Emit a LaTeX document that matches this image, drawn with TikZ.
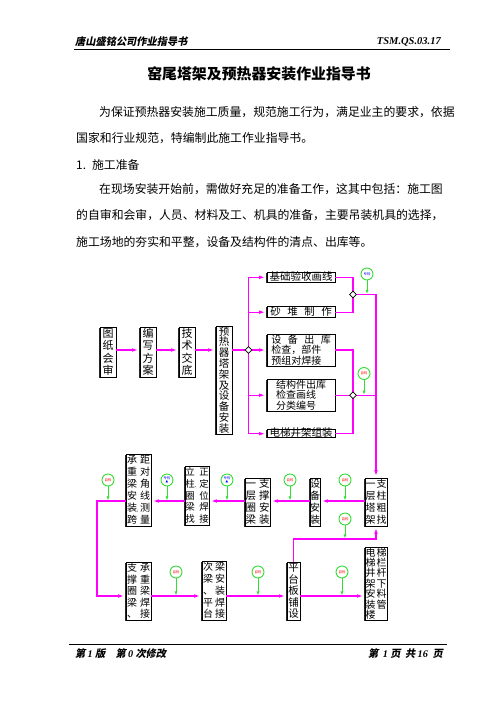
\documentclass[tikz,border=0pt]{standalone}
\usepackage{fontspec}
\setmainfont{Noto Sans CJK SC}
\newfontfamily\cjkhd{Noto Sans CJK SC}[FakeSlant=0.2]
\newfontfamily\lserif{Liberation Serif}
\newfontfamily\symfont{DejaVu Sans}
\usetikzlibrary{positioning,arrows.meta,shapes.geometric,shadows}
\definecolor{FlowMag}{HTML}{FF00FF}
\definecolor{ChkGreen}{HTML}{33DD33}
\newcommand\bxfont[2]{\fontsize{#1}{#2}\selectfont\lineskiplimit=-\maxdimen\relax}
\newcommand\vc[1]{\vtop{\lineskiplimit=-\maxdimen\let\\\cr\halign{\hfil##\hfil\cr#1\crcr}}}
\newcommand\pct[1]{\rlap{\fontsize{4.5}{5}\selectfont#1}}
\begin{document}
\begin{tikzpicture}[x=1pt, y=-1pt,
      box/.style={draw, line width=0.6pt, fill=white, inner sep=0pt,
        drop shadow={shadow xshift=-1.1pt, shadow yshift=-0.7pt, fill=black, opacity=0.85}},
      flow/.style={draw=FlowMag, line width=1.2pt},
      arr/.style={flow, -{Latex[length=6pt,width=3.6pt]}, shorten >=1.5pt},
      joint/.style={diamond, draw, fill=white, line width=0.6pt, inner sep=0pt, minimum size=7pt},
      chk/.style={circle, draw=ChkGreen, line width=0.9pt, fill=white, minimum size=12pt,
        inner sep=0pt, text=red, align=center, font=\bxfont{3.4}{3.4}},
      chkz/.style={chk, text=blue},
      stem/.style={draw=ChkGreen, line width=1pt, -{Latex[length=4pt,width=3pt]}, shorten >=0.6pt},
      txt/.style={anchor=west, inner sep=0pt, font=\fontsize{11.85}{14}\selectfont}]
      \useasboundingbox[fill=white] (0,0) rectangle (496,702);
      % header and footer
      \node[anchor=west, inner sep=0pt, font=\cjkhd\bfseries\fontsize{10.2}{12}\selectfont] (hdl) at (75,42) {唐山盛铭公司作业指导书};
      \node[anchor=east, inner sep=0pt, font=\lserif\bfseries\itshape\fontsize{10.5}{12}\selectfont] (hdr) at (441,42) {TSM.QS.03.17};
      \draw[line width=0.9pt] (74,49.3) -- (450,49.3);
      \draw[line width=0.9pt] (69,644.3) -- (446.7,644.3);
      \node[anchor=west, inner sep=0pt, font=\cjkhd\bfseries\fontsize{10.2}{12}\selectfont] (ftl) at (75,654) {第\ {\lserif\itshape 1}\ 版\quad 第\ {\lserif\itshape 0}\ 次修改};
      \node[anchor=east, inner sep=0pt, font=\cjkhd\bfseries\fontsize{10.2}{12}\selectfont] (ftr) at (443,654) {第\ \ {\lserif\itshape 1}\ 页\ \ 共\ {\lserif\itshape 16}\ \ 页};
      % title and text
      \node[inner sep=0pt, font=\bfseries\fontsize{14.9}{16}\selectfont] (ttl) at (259,74) {窑尾塔架及预热器安装作业指导书};
      \node[txt] (p1) at (99,111.7) {为保证预热器安装施工质量，规范施工行为，满足业主的要求，依据};
      \node[txt] (p2) at (76,138.3) {国家和行业规范，特编制此施工作业指导书。};
      \node[txt] (p3) at (76,165.3) {1.\hspace{6pt}施工准备};
      \node[txt] (p4) at (99,189.3) {在现场安装开始前，需做好充足的准备工作，这其中包括：施工图};
      \node[txt] (p5) at (76,215) {的自审和会审，人员、材料及工、机具的准备，主要吊装机具的选择，};
      \node[txt] (p6) at (76,241.7) {施工场地的夯实和平整，设备及结构件的清点、出库等。};
      % preparation boxes
      \node[box, minimum width=16, minimum height=50, font=\bxfont{11}{12.5}] (tzhs) at (108,352) {\vc{图\\纸\\会\\审}};
      \node[box, minimum width=16, minimum height=50, font=\bxfont{11}{12.5}] (bxfa) at (148,352) {\vc{编\\写\\方\\案}};
      \node[box, minimum width=16, minimum height=50, font=\bxfont{11}{12.5}] (jsjd) at (187,352) {\vc{技\\术\\交\\底}};
      \node[box, minimum width=16, minimum height=108, font=\bxfont{10.5}{10.8}] (yrq) at (224,380) {\vc{预\\热\\器\\塔\\架\\及\\设\\备\\安\\装}};
      \node[box, minimum width=68, minimum height=10, text height=7.6pt, text depth=1.8pt, font=\fontsize{10.5}{12}\selectfont] (jcys) at (301,277.3) {基础验收画线};
      \node[box, minimum width=68, minimum height=11, text height=7.6pt, text depth=1.8pt, font=\fontsize{10.5}{12}\selectfont] (sdzz) at (301,312.2) {砂\hspace{6.5pt}堆\hspace{6.5pt}制\hspace{6.5pt}作};
      \node[box, minimum width=68, minimum height=32, align=left, font=\bxfont{10}{10.5}] (sbck) at (301,350) {设\hspace{6.5pt}备\hspace{6.5pt}出\hspace{6.5pt}库\\检查，部件\\预组对焊接};
      \node[box, minimum width=68, minimum height=32, align=left, font=\bxfont{10}{10.5}] (jgck) at (301,395.2) {结构件出库\\检查画线\\分类编号};
      \node[box, minimum width=68, minimum height=8, text height=6.3pt, text depth=1.5pt, font=\fontsize{10.5}{12}\selectfont] (dtjj) at (301,433.7) {电梯井架组装};
      % erection boxes
      \node[box, minimum width=22, minimum height=48, font=\bxfont{10}{12}] (ycjz) at (376,502) {\vc{一\\层\\塔\\架}\hspace{1pt}\vc{支\\柱\\粗\\找}};
      \node[box, minimum width=10, minimum height=48, font=\bxfont{10}{12}] (sbaz) at (315,502) {\vc{设\\备\\安\\装}};
      \node[box, minimum width=25, minimum height=48, font=\bxfont{10.5}{12}] (qlzc) at (257.5,502) {\vc{一\\层\\圈\\梁}\hspace{3pt}\vc{支\\撑\\安\\装}};
      \node[box, minimum width=24, minimum height=59, font=\bxfont{9.5}{11.8}] (lzql) at (197,495.5) {\vc{立\\柱\pct{、}\\圈\\梁\\找}\hspace{4.5pt}\vc{正\pct{,}\\定\\位\pct{,}\\焊\\接}};
      \node[box, minimum width=25, minimum height=72, font=\bxfont{10}{12}] (czlaz) at (138.5,490) {\vc{承\\重\\梁\\安\\装\pct{,}\\跨}\hspace{3pt}\vc{距\\对\\角\\线\\测\\量}};
      \node[box, minimum width=25, minimum height=58, font=\bxfont{10}{11.5}] (zcql) at (138.5,591) {\vc{支\\撑\\圈\\梁\\、}\hspace{3pt}\vc{承\\重\\梁\\焊\\接}};
      \node[box, minimum width=24, minimum height=59, font=\bxfont{10}{11.8}] (clpt) at (214,590.5) {\vc{次\\梁\\、\\平\\台}\hspace{2pt}\vc{梁\\安\\装\\焊\\接}};
      \node[box, minimum width=13, minimum height=58, font=\bxfont{10.5}{11.5}] (ptbp) at (293.5,591) {\vc{平\\台\\板\\铺\\设}};
      \node[box, minimum width=22, minimum height=73, font=\bxfont{10}{10.4}] (dtaz) at (376,583.5) {\vc{电\\梯\\井\\架\\安\\装\\楼}\hspace{1pt}\vc{梯\pct{、}\\栏\\杆\pct{、}\\下\\料\\管}};
      % junctions
      \coordinate (dj1) at (248.5,350);
      \coordinate (dj2) at (353,294.5);
      \coordinate (dj3) at (353,395.2);
      \coordinate (mrow) at (0,501);
      \coordinate (brow) at (0,596);
      \coordinate (rise) at (0,539);
      \coordinate (lcrn) at (97,596);
      % flow lines
      \draw[arr] (tzhs.east |- dj1) -- (bxfa.west |- dj1);
      \draw[arr] (bxfa.east |- dj1) -- (jsjd.west |- dj1);
      \draw[arr] (jsjd.east |- dj1) -- (yrq.west |- dj1);
      \draw[flow] (yrq.east |- dj1) -- (dj1);
      \draw[flow] (dj1 |- jcys) -- (dj1 |- dtjj);
      \foreach \n in {jcys,sdzz,jgck,dtjj} \draw[arr] (dj1 |- \n) -- (\n.west);
      \draw[arr] (dj1) -- (sbck.west);
      \draw[flow] (jcys.east) -| (dj2);
      \draw[flow] (sdzz.east) -| (dj2);
      \draw[flow] (sbck.east) -| (dj3);
      \draw[flow] (dtjj.east) -| (dj3);
      \draw[flow] (jgck.east) -- (dj3);
      \draw[arr] (dj2) -| (ycjz.north);
      \draw[flow] (dj3) -- (dj3 -| ycjz.north);
      \draw[arr] (ycjz.west |- mrow) -- (sbaz.east |- mrow);
      \draw[arr] (sbaz.west |- mrow) -- (qlzc.east |- mrow);
      \draw[arr] (qlzc.west |- mrow) -- (lzql.east |- mrow);
      \draw[arr] (lzql.west |- mrow) -- (czlaz.east |- mrow);
      \draw[arr] (czlaz.west |- mrow) -| (lcrn) -- (zcql.west |- brow);
      \draw[arr] (zcql.east |- brow) -- (clpt.west |- brow);
      \draw[arr] (clpt.east |- brow) -- (ptbp.west |- brow);
      \draw[arr] (ptbp.east |- brow) -- (dtaz.west |- brow);
      \draw[arr] (ptbp.north) |- (ycjz.south |- rise) -- (ycjz.south);
      \node[joint] (dj1n) at (dj1) {};
      \node[joint] (dj2n) at (dj2) {};
      \node[joint] (dj3n) at (dj3) {};
      % checks
      \node[chkz] (zjc1) at (367,274) {专检};
      \draw[stem] (zjc1.south) -- (zjc1.south |- dj2);
      \node[chk] (zjc2) at (364,373.5) {自检};
      \draw[stem] (zjc2.south) -- (zjc2.south |- dj3);
      \foreach \nm/\px in {zjc3/167, zjc4/227}{
        \node[chkz] (\nm) at (\px,480) {专检\\[-0.6pt]{\symfont ▲}};
        \draw[stem] (\nm.south) -- (\nm.south |- mrow);}
      \foreach \nm/\px/\py/\ln in {zjc5/108/480/mrow, zjc6/290/480/mrow, zjc7/345/480/mrow,
          zjc8/345/519/rise, zjc9/176/572/brow, zjc10/258/572/brow, zjc11/342/572/brow}{
        \node[chk] (\nm) at (\px,\py) {自检};
        \draw[stem] (\nm.south) -- (\nm.south |- \ln);}
    \end{tikzpicture}
\end{document}
